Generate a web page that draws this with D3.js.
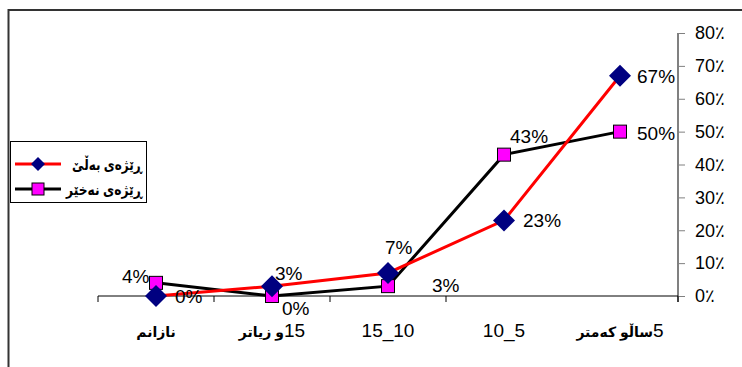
<!DOCTYPE html>
<html>
<head>
<meta charset="utf-8">
<script src="https://cdn.jsdelivr.net/npm/d3@7"></script>
<style>
  body { margin: 0; background: #fff; }
  svg { display: block; font-family: "Liberation Sans", Arial, "DejaVu Sans", sans-serif; }
</style>
</head>
<body>
<svg id="chart" width="742" height="367"></svg>
<script>
// categories, left to right as drawn (chart is right-to-left)
const categories = ["نازانم", "15و زیاتر", "15_10", "10_5", "5ساڵو کەمتر"];
const yesValues = [0, 3, 7, 23, 67];   // ڕێژەی بەڵێ
const noValues = [4, 0, 3, 43, 50];    // ڕێژەی نەخێر
const yTicks = [0, 10, 20, 30, 40, 50, 60, 70, 80];
const seriesNames = ["ڕێژەی بەڵێ", "ڕێژەی نەخێر"];

// where each value label sits relative to its point
const yesLabelOffset = [[19, 7], [3, -6], [-3, -19], [19, 7], [17, 7]];
const noLabelOffset = [[-34, 0], [10, 19], [44, 6], [6, -12], [17, 8]];

const svg = d3.select("#chart");

// outer frame (only top and left edges show)
svg.append("path")
  .attr("d", "M8.5,367 V10 H742")
  .attr("fill", "none")
  .attr("stroke", "#333")
  .attr("stroke-width", 2);

const x = d3.scaleBand().domain(categories).range([98, 678]);
const y = d3.scaleLinear().domain([0, 80]).range([296, 33]);
const cx = d => x(d) + x.bandwidth() / 2;

// y axis on the right
const yAxis = svg.append("g")
  .attr("transform", "translate(678,0)")
  .call(d3.axisRight(y).tickValues(yTicks).tickSize(7).tickPadding(10)
    .tickFormat(d => d + "٪"));
yAxis.select(".domain").attr("stroke", "#808080").attr("stroke-width", 2)
  .attr("d", "M0,33 V302");
yAxis.selectAll(".tick line").attr("stroke", "#808080");
yAxis.selectAll(".tick text")
  .attr("font-size", 18)
  .attr("font-family", "Liberation Sans, Arial, sans-serif")
  .attr("fill", "#000");

// x axis baseline with ticks at category boundaries
const xAxis = svg.append("g");
xAxis.append("line")
  .attr("x1", x.range()[0]).attr("x2", x.range()[1])
  .attr("y1", y(0)).attr("y2", y(0))
  .attr("stroke", "#000");
xAxis.selectAll(".bnd")
  .data(categories.slice(0, -1).map(c => x(c)).concat([x.range()[1]]))
  .join("line")
  .attr("x1", d => d).attr("x2", d => d)
  .attr("y1", y(0)).attr("y2", y(0) + 6)
  .attr("stroke", "#000");

// category labels: Kurdish part bold, digits regular
const catLabels = xAxis.selectAll(".cat")
  .data(categories)
  .join("text")
  .attr("x", d => cx(d))
  .attr("y", 337)
  .attr("text-anchor", "middle")
  .attr("direction", d => /^[0-9_]+$/.test(d) ? "ltr" : "rtl");
catLabels.each(function (d) {
  const t = d3.select(this);
  const parts = d.match(/[0-9_]+|[^0-9_]+/g);
  parts.forEach(p => {
    const isNum = /^[0-9_]+$/.test(p);
    t.append("tspan")
      .attr("font-size", isNum ? 19 : 14)
      .attr("font-weight", isNum ? "normal" : "bold")
      .text(p);
  });
});

const line = d3.line().x((d, i) => cx(categories[i])).y(d => y(d));

// no series (black line, magenta squares)
svg.append("path")
  .datum(noValues)
  .attr("d", line)
  .attr("fill", "none")
  .attr("stroke", "#000")
  .attr("stroke-width", 3);

// yes series (red line, navy diamonds)
svg.append("path")
  .datum(yesValues)
  .attr("d", line)
  .attr("fill", "none")
  .attr("stroke", "#ff0000")
  .attr("stroke-width", 3);

svg.selectAll(".sq")
  .data(noValues)
  .join("rect")
  .attr("x", (d, i) => cx(categories[i]) - 6.5)
  .attr("y", d => y(d) - 6.5)
  .attr("width", 13).attr("height", 13)
  .attr("fill", "#ff00ff")
  .attr("stroke", "#000")
  .attr("stroke-width", 1);

svg.selectAll(".dm")
  .data(yesValues)
  .join("path")
  .attr("d", "M0,-11 L11,0 L0,11 L-11,0 Z")
  .attr("transform", (d, i) => `translate(${cx(categories[i])},${y(d)})`)
  .attr("fill", "#000080");

// value labels
const labelFont = 19;
svg.selectAll(".ly")
  .data(yesValues)
  .join("text")
  .attr("x", (d, i) => cx(categories[i]) + yesLabelOffset[i][0])
  .attr("y", (d, i) => y(d) + yesLabelOffset[i][1])
  .attr("font-size", labelFont)
  .text(d => d + "%");
svg.selectAll(".ln")
  .data(noValues)
  .join("text")
  .attr("x", (d, i) => cx(categories[i]) + noLabelOffset[i][0])
  .attr("y", (d, i) => y(d) + noLabelOffset[i][1])
  .attr("font-size", labelFont)
  .text(d => d + "%");

// legend
const legend = svg.append("g");
legend.append("rect")
  .attr("x", 10.5).attr("y", 141.5)
  .attr("width", 136).attr("height", 61)
  .attr("fill", "#fff")
  .attr("stroke", "#000");
const rows = legend.selectAll(".row")
  .data(seriesNames)
  .join("g")
  .attr("transform", (d, i) => `translate(0,${164 + i * 25})`);
rows.append("line")
  .attr("x1", 15).attr("x2", 61)
  .attr("stroke", (d, i) => i === 0 ? "#ff0000" : "#000")
  .attr("stroke-width", 3);
rows.filter((d, i) => i === 0).append("path")
  .attr("d", "M38,-7 L45,0 L38,7 L31,0 Z")
  .attr("fill", "#000080");
rows.filter((d, i) => i === 1).append("rect")
  .attr("x", 32).attr("y", -6).attr("width", 12).attr("height", 12)
  .attr("fill", "#ff00ff").attr("stroke", "#000");
rows.append("text")
  .attr("x", 142)
  .attr("y", 6)
  .attr("text-anchor", "end")
  .attr("font-size", 15)
  .attr("font-weight", "bold")
  .attr("textLength", (d, i) => i === 0 ? 70 : 76)
  .attr("lengthAdjust", "spacingAndGlyphs")
  .text(d => d);
</script>
</body>
</html>
